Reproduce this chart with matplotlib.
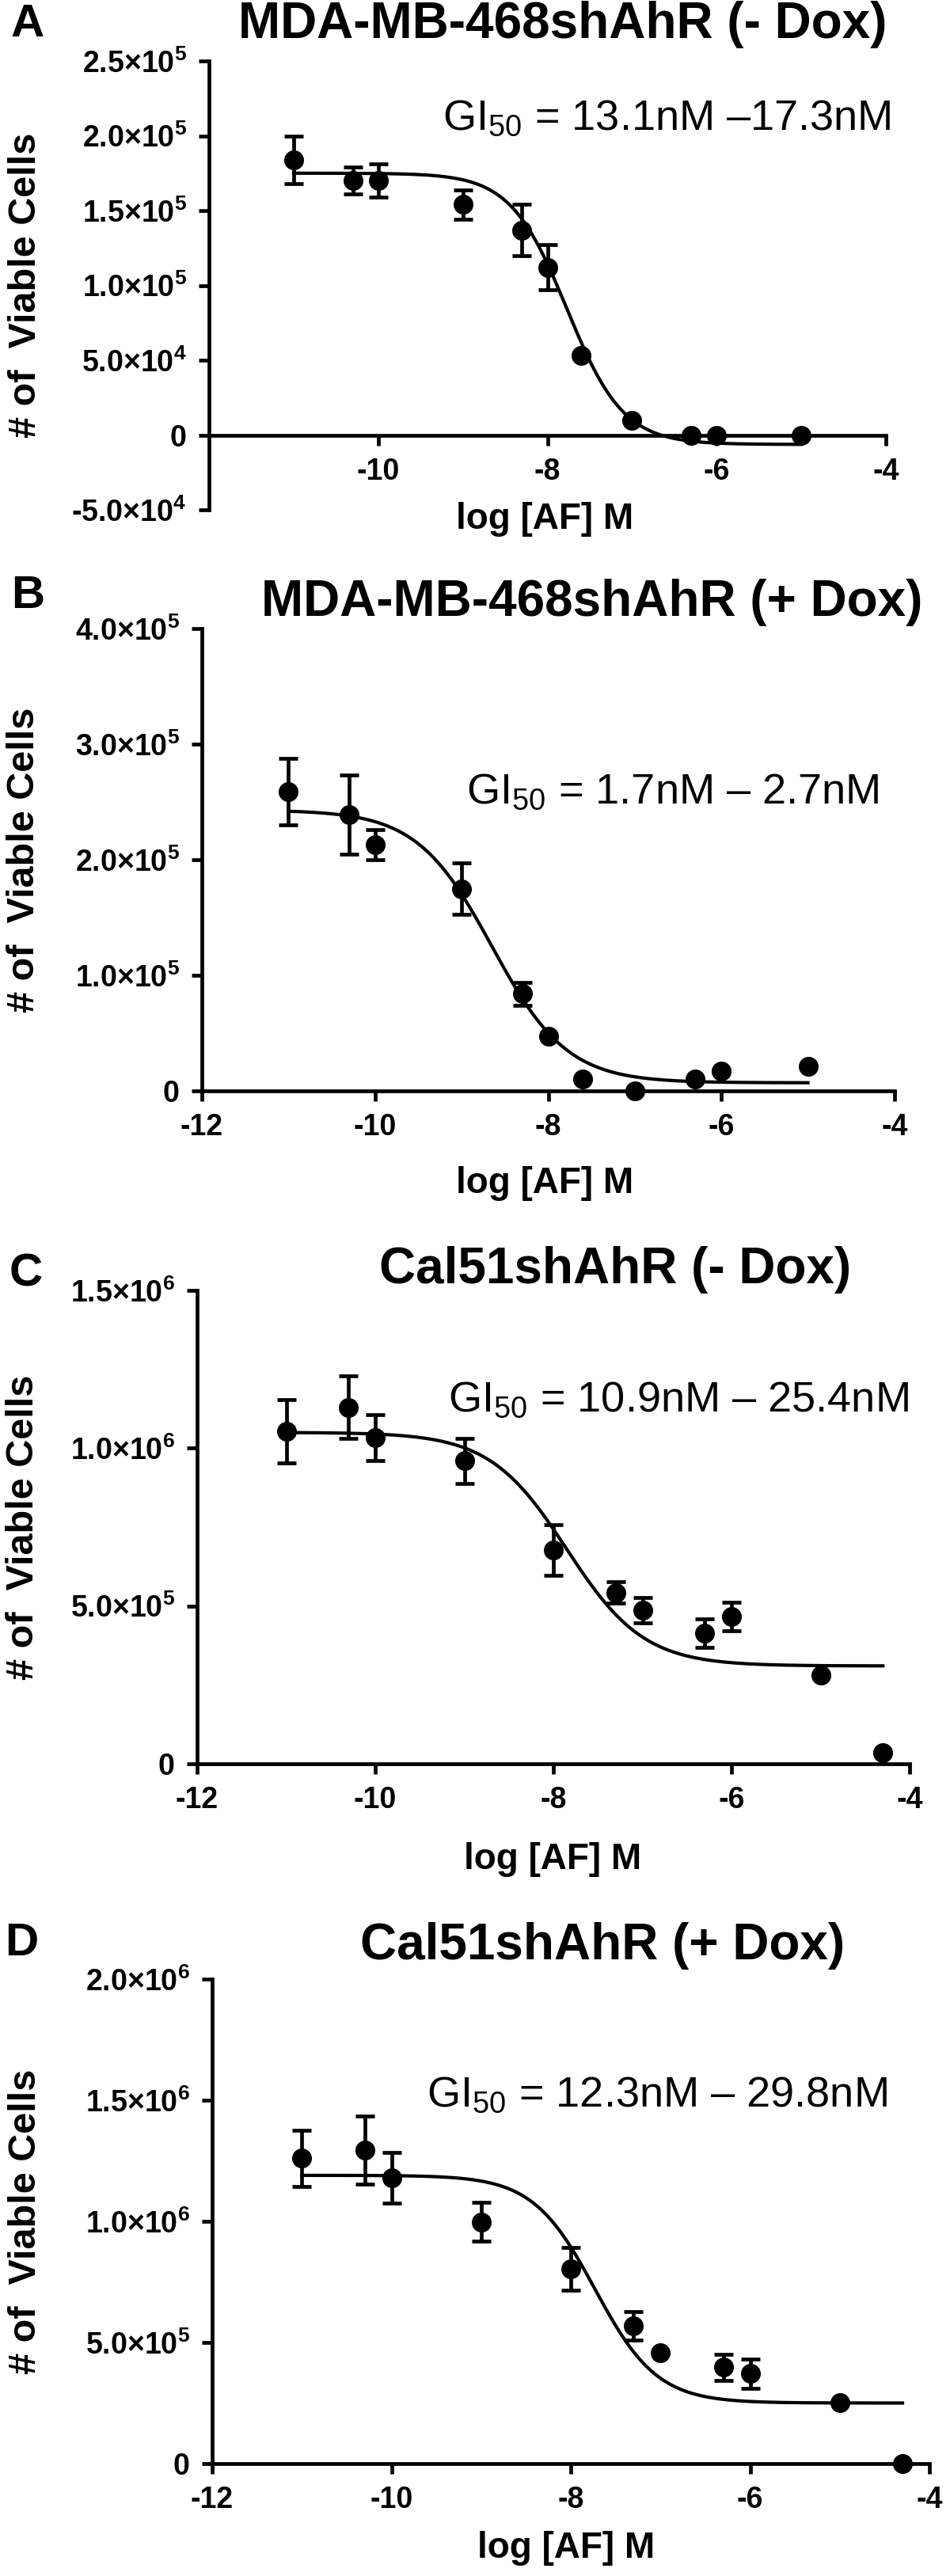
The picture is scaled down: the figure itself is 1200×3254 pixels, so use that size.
import numpy as np
import matplotlib.pyplot as plt

plt.rcParams['font.family'] = ['Liberation Sans', 'DejaVu Sans']
plt.rcParams['mathtext.fontset'] = 'custom'
plt.rcParams['mathtext.rm'] = 'Liberation Sans'
plt.rcParams['mathtext.bf'] = 'Liberation Sans:bold'
plt.rcParams['mathtext.default'] = 'bf'

# log [AF] M, number of viable cells, error
conc_a = [-11, -10.3, -10, -9, -8.3, -8, -7.6, -7, -6.3, -6, -5]
cells_a = [1.84e5, 1.70e5, 1.70e5, 1.54e5, 1.37e5, 1.12e5, 0.53e5, 0.10e5, 0, 0, 0]
err_a = [0.16e5, 0.09e5, 0.11e5, 0.10e5, 0.17e5, 0.15e5, 0, 0, 0, 0, 0]

conc_b = [-11, -10.3, -10, -9, -8.3, -8, -7.6, -7, -6.3, -6, -5]
cells_b = [2.59e5, 2.39e5, 2.13e5, 1.75e5, 0.84e5, 0.475e5, 0.10e5, 0, 0.10e5, 0.17e5, 0.21e5]
err_b = [0.29e5, 0.34e5, 0.13e5, 0.22e5, 0.10e5, 0, 0, 0, 0, 0, 0]

conc_c = [-11, -10.3, -10, -9, -8, -7.3, -7, -6.3, -6, -5, -4.3]
cells_c = [1.053e6, 1.13e6, 1.033e6, 0.96e6, 0.678e6, 0.543e6, 0.487e6, 0.414e6, 0.467e6, 0.28e6, 0.036e6]
err_c = [0.10e6, 0.10e6, 0.072e6, 0.072e6, 0.08e6, 0.035e6, 0.04e6, 0.045e6, 0.045e6, 0, 0]

conc_d = [-11, -10.3, -10, -9, -8, -7.3, -7, -6.3, -6, -5, -4.3]
cells_d = [1.26e6, 1.294e6, 1.18e6, 0.997e6, 0.803e6, 0.569e6, 0.456e6, 0.398e6, 0.371e6, 0.251e6, 0]
err_d = [0.115e6, 0.14e6, 0.105e6, 0.08e6, 0.088e6, 0.06e6, 0, 0.054e6, 0.06e6, 0, 0]

# fitted dose-response curves: top, bottom, log GI50, hill slope, x range
fit_a = [1.75e5, -6300, -7.77, 1.3, -11, -5]
fit_b = [2.43e5, 7000, -8.65, 1.0, -11, -5]
fit_c = [1.05e6, 0.31e6, -7.85, 1.0, -11, -4.3]
fit_d = [1.19e6, 0.25e6, -7.73, 1.25, -11, -4.3]

titles = ['MDA-MB-468shAhR (- Dox)', 'MDA-MB-468shAhR (+ Dox)',
          'Cal51shAhR (- Dox)', 'Cal51shAhR (+ Dox)']
letters = ['A', 'B', 'C', 'D']
gi50_texts = [r'GI$_{\mathrm{50}}$ = 13.1nM –17.3nM',
              r'GI$_{\mathrm{50}}$ = 1.7nM – 2.7nM',
              r'GI$_{\mathrm{50}}$ = 10.9nM – 25.4nM',
              r'GI$_{\mathrm{50}}$ = 12.3nM – 29.8nM']

yticks_a = [-5e4, 0, 5e4, 1e5, 1.5e5, 2e5, 2.5e5]
ylabels_a = ['-5.0×10$^{4}$', '0', '5.0×10$^{4}$', '1.0×10$^{5}$', '1.5×10$^{5}$',
             '2.0×10$^{5}$', '2.5×10$^{5}$']
yticks_b = [0, 1e5, 2e5, 3e5, 4e5]
ylabels_b = ['0', '1.0×10$^{5}$', '2.0×10$^{5}$', '3.0×10$^{5}$', '4.0×10$^{5}$']
yticks_c = [0, 5e5, 1e6, 1.5e6]
ylabels_c = ['0', '5.0×10$^{5}$', '1.0×10$^{6}$', '1.5×10$^{6}$']
yticks_d = [0, 5e5, 1e6, 1.5e6, 2e6]
ylabels_d = ['0', '5.0×10$^{5}$', '1.0×10$^{6}$', '1.5×10$^{6}$', '2.0×10$^{6}$']

xticks_a = [-10, -8, -6, -4]
xlabels_a = ['-10', '-8', '-6', '-4']
xticks_all = [-12, -10, -8, -6, -4]
xlabels_all = ['-12', '-10', '-8', '-6', '-4']

W, H = 1200, 3254
fig = plt.figure(figsize=(W / 100, H / 100), dpi=100)

# axes boxes in pixels: left, right, top, bottom
boxes = [(264, 1119, 77, 644), (255, 1130, 794, 1378),
         (249, 1149, 1630, 2228), (268, 1174, 2500, 3112)]
title_pos = [(711, 31), (748, 761), (777, 1604), (761, 2458)]
letter_pos = [(14, 31), (14, 753), (12, 1610), (6, 2455)]
gi_pos = [(559, 150), (589, 1001), (566, 1769), (539, 2647)]
xlab_pos = [(688, 656), (688, 1495), (698, 2349), (715, 3219)]
ylab_x = [33, 31, 30, 33]

panels = [
    (conc_a, cells_a, err_a, fit_a, yticks_a, ylabels_a, xticks_a, xlabels_a),
    (conc_b, cells_b, err_b, fit_b, yticks_b, ylabels_b, xticks_all, xlabels_all),
    (conc_c, cells_c, err_c, fit_c, yticks_c, ylabels_c, xticks_all, xlabels_all),
    (conc_d, cells_d, err_d, fit_d, yticks_d, ylabels_d, xticks_all, xlabels_all),
]

for i, (x, y, e, fit, yt, yl, xt, xl) in enumerate(panels):
    l, r, t, b = boxes[i]
    ax = fig.add_axes([l / W, 1 - b / H, (r - l) / W, (b - t) / H])

    top, bottom, logc, hill, x0, x1 = fit
    xs = np.linspace(x0, x1, 300)
    ax.plot(xs, bottom + (top - bottom) / (1 + 10 ** ((xs - logc) * hill)),
            color='black', lw=3, clip_on=False, zorder=2)
    ax.errorbar(x, y, yerr=e, fmt='o', color='black', ms=17, elinewidth=3.4,
                capsize=8.5, capthick=3.4, clip_on=False, zorder=3)

    ax.set_xlim(-12, -4)
    ax.set_ylim(yt[0], yt[-1])
    ax.set_xticks(xt, xl)
    ax.set_yticks(yt, yl)
    for s in ['top', 'right']:
        ax.spines[s].set_visible(False)
    for s in ['left', 'bottom']:
        ax.spines[s].set_linewidth(3.4)
    if yt[0] < 0:
        ax.spines['bottom'].set_position(('data', 0))
    ax.tick_params(width=3.4, length=9.5, labelsize=27, pad=11)
    for lab in ax.get_xticklabels() + ax.get_yticklabels():
        lab.set_fontweight('bold')

    tx, ty = title_pos[i]
    fig.text(tx / W, 1 - ty / H, titles[i], fontsize=46, fontweight='bold',
             ha='center', va='center')
    lx, ly = letter_pos[i]
    fig.text(lx / W, 1 - ly / H, letters[i], fontsize=42, fontweight='bold',
             ha='left', va='center')
    gx, gy = gi_pos[i]
    fig.text(gx / W, 1 - gy / H, gi50_texts[i], fontsize=39, ha='left', va='center')
    xx, xy = xlab_pos[i]
    fig.text(xx / W, 1 - xy / H, 'log [AF] M', fontsize=33, fontweight='bold',
             ha='center', va='center')
    fig.text(ylab_x[i] / W, 1 - (t + b) / 2 / H, '# of  Viable Cells', fontsize=35,
             fontweight='bold', rotation=90, ha='center', va='center')

fig.savefig('out.png', dpi=100, facecolor='white')
